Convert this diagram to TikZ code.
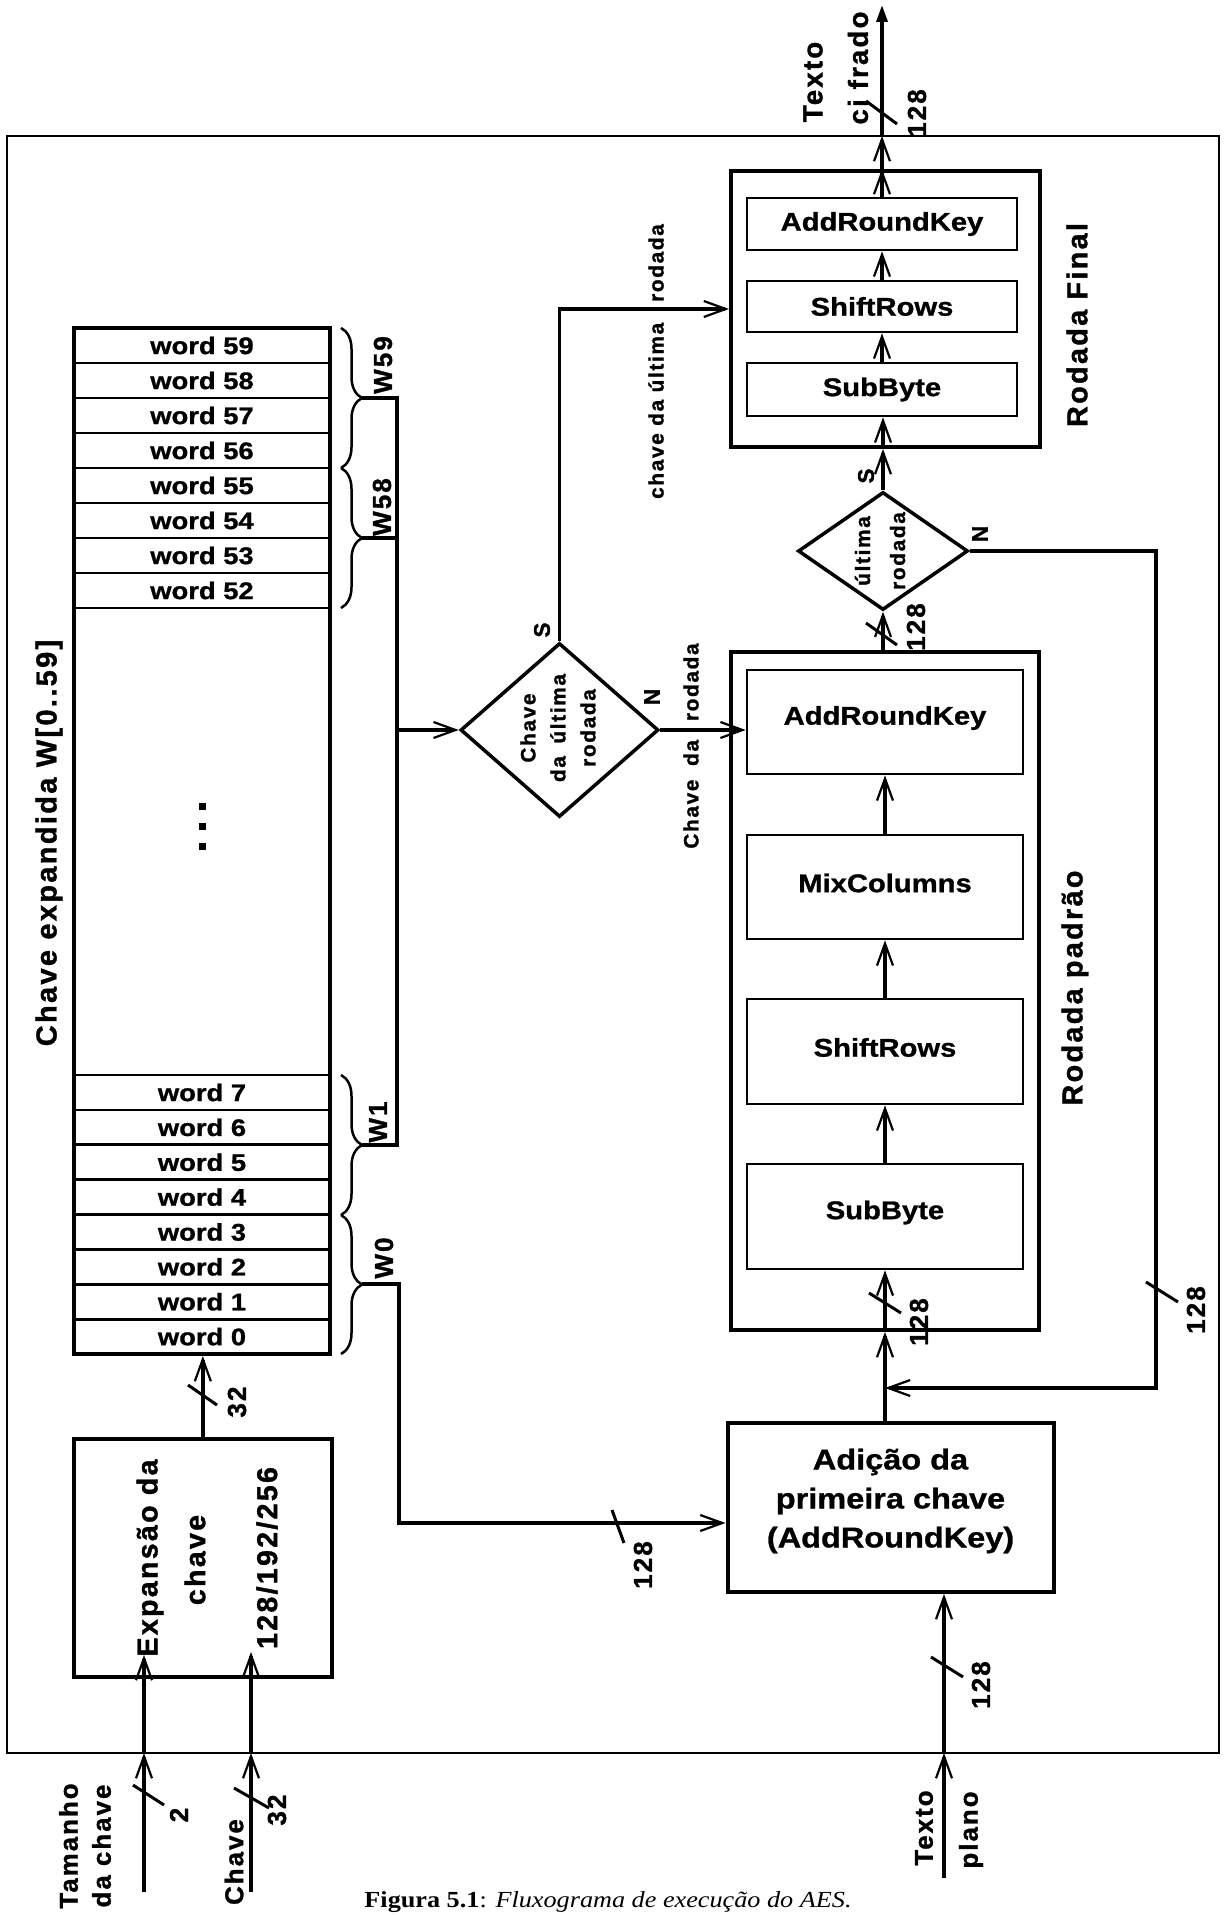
\documentclass[tikz,border=0pt]{standalone}
\usepackage{fontspec}
\setmainfont{Liberation Sans}
\newfontfamily\wideSans{Liberation Sans}[FakeStretch=1.14, BoldFeatures={FakeBold=1}]
\newfontfamily\spacedSans{Liberation Sans Bold}[LetterSpace=8, FakeBold=1.2]
\newfontfamily\wideSerif{Liberation Serif}[FakeStretch=1.14]
\usetikzlibrary{arrows.meta,decorations.pathreplacing,fit,calc,shapes.geometric}

\tikzset{
  >={Straight Barb[length=11pt,width=8pt,line width=1.1pt]},
  frameline/.style={line width=1.25pt},
  obox/.style={draw, line width=2pt, inner sep=0pt},
  ibox/.style={draw, line width=1.35pt, inner sep=0pt},
  htext/.style={inner sep=0pt, font=\wideSans\bfseries\fontsize{12.8pt}{15pt}\selectfont},
  wordrow/.style={draw, line width=1.35pt, minimum width=128pt, minimum height=17.5pt,
    inner sep=0pt, font=\wideSans\bfseries\fontsize{12pt}{13pt}\selectfont},
  conn/.style={line width=1.75pt},
  arr/.style={conn,->},
  slashmark/.style={line width=1.5pt},
  bracestyle/.style={line width=1.25pt, decorate, decoration={brace, amplitude=10.5pt}},
  rtext/.style 2 args={rotate=90, inner sep=0pt, align=center,
    font=\spacedSans\fontsize{#1}{#2}\selectfont},
  decision/.style={diamond, draw, line width=1.75pt, inner sep=0pt},
}

\begin{document}
\begin{tikzpicture}[x=0.5pt,y=-0.5pt]
\useasboundingbox (0,0) rectangle (1223,1915);

% outer frame of the cipher unit
\draw[frameline] (7,136) rectangle (1219,1753);
\coordinate (ftop) at (0,136);
\coordinate (fbot) at (0,1753);

% expanded key column
\foreach \n [count=\i from 0] in {59,58,...,52}
  \node[wordrow] (w\n) at (202,{345.5+35*\i}) {word \n};
\foreach \n [count=\i from 0] in {7,6,...,0}
  \node[wordrow, minimum height=17.44pt] (w\n) at (202,{1092.5+34.875*\i}) {word \n};
\node[obox, fit={(74,328) (330,1354)}] (col) {};
\foreach \y in {806,826,846}
  \fill (199,\y-3.5) rectangle (206,\y+3.5);
\node[rtext={14.5pt}{14.5pt}] (coltitle) at (49,843) {Chave expandida W[0..59]};

% round-key braces
\draw[bracestyle] (341,328) -- (341,468);
\draw[bracestyle] (341,468) -- (341,608);
\draw[bracestyle] (341,1075) -- (341,1215);
\draw[bracestyle] (341,1215) -- (341,1354);
\coordinate (tA) at (362,398);
\coordinate (tB) at (362,538);
\coordinate (tC) at (362,1145);
\coordinate (tD) at (362,1284);
\node[rtext={13pt}{13pt}] (lw59) at (383,365) {W59};
\node[rtext={13pt}{13pt}] (lw58) at (382,507) {W58};
\node[rtext={13pt}{13pt}] (lw1) at (378,1122) {W1};
\node[rtext={13pt}{13pt}] (lw0) at (384,1258) {W0};

% key expansion block
\node[obox, fit={(74,1439) (331.7,1677)}] (exp) {};
\node[rtext={14.3pt}{14.3pt}] (expt1) at (150,1558) {Expansão da};
\node[rtext={14.3pt}{14.3pt}] (expt2) at (195,1560) {chave};
\node[rtext={14.3pt}{14.3pt}] (expt3) at (267,1558) {128/192/256};

% first key addition
\node[obox, fit={(727.5,1423) (1053.6,1592)}] (adi) {};
\node[align=center, font=\wideSans\bfseries\fontsize{14.25pt}{19.5pt}\selectfont]
  (adit) at (890.5,1501) {Adição da\\primeira chave\\(AddRoundKey)};

% standard round
\node[obox, fit={(731,652) (1039,1330)}] (pad) {};
\node[ibox, fit={(747,670) (1023,774)}] (ark) {};
\node[ibox, fit={(747,835) (1023,939)}] (mix) {};
\node[ibox, fit={(747,999) (1023,1104)}] (sr) {};
\node[ibox, fit={(747,1164) (1023,1269)}] (sb) {};
\node[htext] (arkt) at ([yshift=2pt]ark.center) {AddRoundKey};
\node[htext] (mixt) at ([yshift=2pt]mix.center) {MixColumns};
\node[htext] (srt) at ([yshift=2pt]sr.center) {ShiftRows};
\node[htext] (sbt) at ([yshift=2pt]sb.center) {SubByte};
\node[rtext={14.4pt}{14.4pt}] (padt) at (1075,988) {Rodada padrão};

% final round
\node[obox, fit={(731,171) (1040,447)}] (fin) {};
\node[ibox, fit={(747,198) (1017,250)}] (finark) {};
\node[ibox, fit={(747,281) (1017,332)}] (finsr) {};
\node[ibox, fit={(747,363) (1017,416)}] (finsb) {};
\node[htext] (finarkt) at (finark.center) {AddRoundKey};
\node[htext] (finsrt) at (finsr.center) {ShiftRows};
\node[htext] (finsbt) at (finsb.center) {SubByte};
\node[rtext={14.4pt}{14.4pt}] (fint) at (1077,325) {Rodada Final};

% decisions
\node[decision, minimum width=99pt, minimum height=87pt] (d1) at (559.5,730) {};
\node[rtext={10.4pt}{15pt}] (d1t) at (558,728) {Chave\\da\hspace{0.6em}última\\rodada};
\node[decision, minimum width=85pt, minimum height=59pt] (d2) at (883,551) {};
\node[rtext={10.4pt}{17.5pt}] (d2t) at (880,551) {última\\rodada};
\node[rtext={11.3pt}{11.3pt}] (d1s) at (542,630) {S};
\node[rtext={11.3pt}{11.3pt}] (d1n) at (652,697) {N};
\node[rtext={11.3pt}{11.3pt}] (d2s) at (866,476) {S};
\node[rtext={11.3pt}{11.3pt}] (d2n) at (980,534) {N};

% key labels on the round-key paths
\node[rtext={10.4pt}{10.4pt}] (kr) at (691,746) {Chave\hspace{0.3em} da\hspace{0.55em} rodada};
\node[rtext={10.4pt}{10.4pt}] (kf) at (656,361.5) {chave da última\hspace{0.65em} rodada};

% word bus from the expanded key
\draw[conn] (tA) -- (397,398) coordinate (busTop) -- (397,1145) coordinate (busBot) -- (tC);
\draw[conn] (tB) -- (tB -| busTop);
\draw[arr] (d1.west -| busTop) -- (d1.west);
\coordinate (k0) at (0,1523);
\draw[arr] (tD) -- (399,1284) |- (adi.west |- k0);
\draw[slashmark] (612,1510) -- (624,1543);
\node[rtext={13pt}{13pt}] (n1) at (643,1565) {128};

% round-key selection
\draw[arr] (d1.north) |- (fin.west);
\draw[arr] (d1.east) -- (d1.east -| ark.west);

% key expansion output
\draw[arr] (exp.north) -- (exp.north |- col.south);
\draw[slashmark] (188,1385) -- (217,1405);
\node[rtext={13pt}{13pt}] (n2) at (237,1402) {32};

% external inputs
\coordinate (tamIn) at (144,1892);
\coordinate (tamEnd) at (144,1655);
\coordinate (keyIn) at (251,1892);
\coordinate (keyEnd) at (251,1652);
\coordinate (txtIn) at (944,1878);
\draw[arr] (tamIn) -- (tamIn |- fbot);
\draw[arr] (tamIn |- fbot) -- (tamEnd);
\draw[arr] (keyIn) -- (keyIn |- fbot);
\draw[arr] (keyIn |- fbot) -- (keyEnd);
\draw[arr] (txtIn) -- (txtIn |- fbot);
\draw[arr] (txtIn |- fbot) -- (txtIn |- adi.south);
\draw[slashmark] (133,1785) -- (164,1805);
\node[rtext={13pt}{13pt}] (n3) at (179,1815) {2};
\draw[slashmark] (234,1788) -- (269,1808);
\node[rtext={13pt}{13pt}] (n4) at (277,1810) {32};
\draw[slashmark] (931,1657) -- (963,1677);
\node[rtext={13pt}{13pt}] (n5) at (981,1685) {128};
\node[rtext={12.9pt}{16.5pt}] (tamt) at (85,1846) {Tamanho\\da chave};
\node[rtext={12.9pt}{12.9pt}] (keyt) at (234,1862) {Chave};
\node[rtext={12.9pt}{12.9pt}] (txt1) at (924,1828) {Texto};
\node[rtext={12.9pt}{12.9pt}] (txt2) at (971,1830) {plano};

% standard round data path
\draw[arr] (sb.south |- adi.north) -- (sb.south |- pad.south);
\draw[arr] (sb.south |- pad.south) -- (sb.south);
\draw[slashmark] (869,1293) -- (901,1313);
\node[rtext={13pt}{13pt}] (n6) at (919,1322) {128};
\draw[arr] (sb.north) -- (sr.south);
\draw[arr] (sr.north) -- (mix.south);
\draw[arr] (mix.north) -- (ark.south);
\draw[arr] (d2.south |- pad.north) -- (d2.south);
\draw[slashmark] (866,623) -- (897,645);
\node[rtext={13pt}{13pt}] (n7) at (916,627) {128};

% loop back for another round
\coordinate (fbR) at (1156,1388);
\draw[arr] (d2.east) -| (fbR) -- (fbR -| sb.south);
\draw[slashmark] (1146,1282) -- (1178,1302);
\node[rtext={13pt}{13pt}] (n8) at (1196,1310) {128};

% final round data path
\draw[arr] (d2.north) -- (d2.north |- fin.south);
\draw[arr] (d2.north |- fin.south) -- (d2.north |- finsb.south);
\draw[arr] (finsb.north) -- (finsr.south);
\draw[arr] (finsr.north) -- (finark.south);
\draw[arr] (finark.north) -- (finark.north |- fin.north);
\draw[arr] (finark.north |- fin.north) -- (finark.north |- ftop);
\coordinate (outTxt) at (880,5);
\draw[conn, -{Triangle[length=8.5pt,width=5.5pt]}] (finark.north |- ftop) -- (finark.north |- outTxt);
\draw[slashmark] (866,101) -- (897,124);
\node[rtext={13pt}{13pt}] (n9) at (917,113) {128};
\node[rtext={13.8pt}{13.8pt}] (out1) at (813,82) {Texto};
\node[rtext={13.8pt}{13.8pt}] (out2) at (858,68) {ci frado};

% caption
\node[anchor=base, font=\wideSerif\fontsize{11.5pt}{13pt}\selectfont] (cap) at (608,1907)
  {\textbf{Figura 5.1}: \textit{Fluxograma de execução do AES.}};
\end{tikzpicture}
\end{document}
